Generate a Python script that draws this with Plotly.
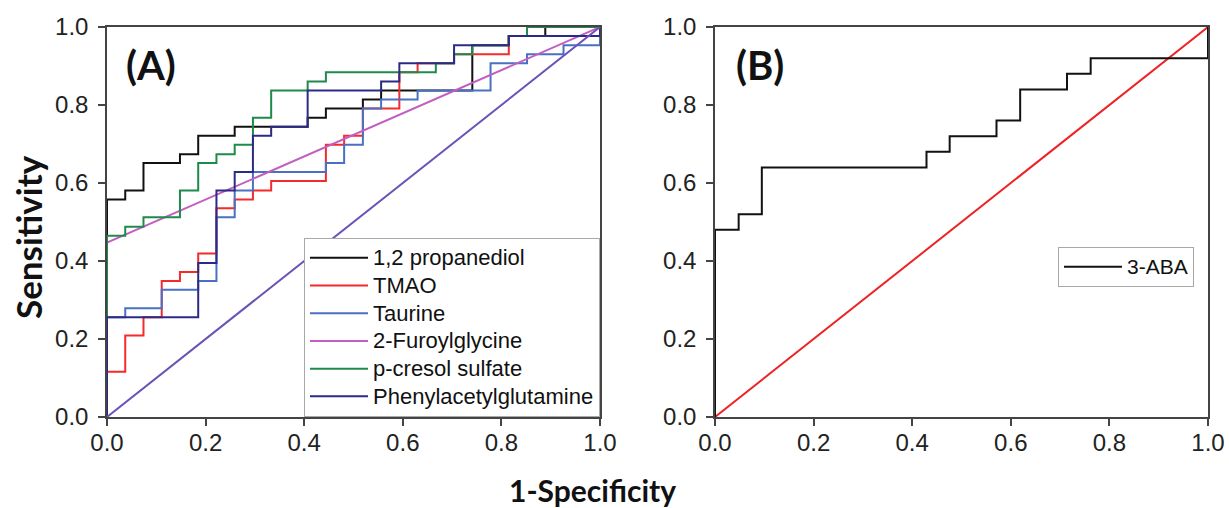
import plotly.graph_objects as go

# ---------------- Panel A: ROC operating points (1-Specificity, Sensitivity) -------------
propanediol_fpr = [0, 0, 0.037, 0.074, 0.148, 0.185, 0.259, 0.407, 0.444, 0.519, 0.556, 0.741, 0.815, 0.889, 1.0]
propanediol_tpr = [0, 0.558, 0.581, 0.651, 0.674, 0.721, 0.744, 0.767, 0.791, 0.814, 0.837, 0.953, 0.977, 1.0, 1.0]

tmao_fpr = [0, 0, 0.037, 0.074, 0.111, 0.148, 0.185, 0.222, 0.259, 0.296, 0.333, 0.444, 0.481, 0.519, 0.593, 0.630, 0.704, 0.815, 1.0]
tmao_tpr = [0, 0.116, 0.209, 0.256, 0.349, 0.372, 0.419, 0.535, 0.558, 0.581, 0.605, 0.698, 0.721, 0.791, 0.884, 0.907, 0.930, 0.977, 1.0]

taurine_fpr = [0, 0, 0.037, 0.111, 0.185, 0.222, 0.259, 0.296, 0.444, 0.481, 0.519, 0.556, 0.630, 0.778, 0.852, 0.926, 1.0]
taurine_tpr = [0, 0.256, 0.279, 0.326, 0.349, 0.512, 0.581, 0.628, 0.651, 0.698, 0.791, 0.814, 0.837, 0.907, 0.930, 0.953, 1.0]

furoylglycine_fpr = [0, 0, 1.0]
furoylglycine_tpr = [0, 0.447, 1.0]

cresol_fpr = [0, 0, 0.037, 0.074, 0.148, 0.185, 0.222, 0.259, 0.296, 0.333, 0.407, 0.444, 0.667, 0.704, 0.741, 0.815, 0.852, 1.0]
cresol_tpr = [0, 0.465, 0.488, 0.512, 0.581, 0.651, 0.674, 0.698, 0.767, 0.837, 0.860, 0.884, 0.907, 0.930, 0.953, 0.977, 1.0, 1.0]

pag_fpr = [0, 0, 0.185, 0.222, 0.259, 0.296, 0.333, 0.407, 0.556, 0.593, 0.704, 0.815, 1.0]
pag_tpr = [0, 0.256, 0.395, 0.581, 0.628, 0.721, 0.744, 0.837, 0.860, 0.907, 0.953, 0.977, 1.0]

ref_line = [0, 1.0]

# ---------------- Panel B --------------------------------------------------------------
aba_fpr = [0, 0, 0.048, 0.095, 0.429, 0.476, 0.571, 0.619, 0.714, 0.762, 1.0]
aba_tpr = [0, 0.48, 0.52, 0.64, 0.68, 0.72, 0.76, 0.84, 0.88, 0.92, 1.0]

names_a = ["1,2 propanediol", "TMAO", "Taurine", "2-Furoylglycine", "p-cresol sulfate", "Phenylacetylglutamine"]
name_b = "3-ABA"
colors_a = ["#111111", "#f52a2a", "#4a70c2", "#c25ec2", "#1f8a4c", "#2b2b86"]
series_a = [(propanediol_fpr, propanediol_tpr, "hv"),
            (tmao_fpr, tmao_tpr, "hv"),
            (taurine_fpr, taurine_tpr, "hv"),
            (furoylglycine_fpr, furoylglycine_tpr, "linear"),
            (cresol_fpr, cresol_tpr, "hv"),
            (pag_fpr, pag_tpr, "hv")]

TXT = "Liberation Sans, Arial, sans-serif"
BOLD = "Lato, Open Sans, sans-serif"


def big(label, px):
    return f'<span style="font-size:{px}px">{label}</span>'


fig = go.Figure()
for name, col, (fx, ty, shp) in zip(names_a, colors_a, series_a):
    fig.add_trace(go.Scatter(x=fx, y=ty, mode="lines", name=big(name, 22),
                             line=dict(color=col, width=2, shape=shp),
                             xaxis="x", yaxis="y", legend="legend"))
fig.add_trace(go.Scatter(x=ref_line, y=ref_line, mode="lines", showlegend=False,
                         line=dict(color="#6b52b6", width=2), xaxis="x", yaxis="y"))

fig.add_trace(go.Scatter(x=ref_line, y=ref_line, mode="lines", showlegend=False,
                         line=dict(color="#ee2222", width=2), xaxis="x2", yaxis="y2"))
fig.add_trace(go.Scatter(x=aba_fpr, y=aba_tpr, mode="lines", name=big(name_b, 21),
                         line=dict(color="#111111", width=2, shape="hv"),
                         xaxis="x2", yaxis="y2", legend="legend2"))

W, H = 1229, 508
xa = [107 / W, 600 / W]
xb = [715 / W, 1208 / W]
yd = [91 / H, 481 / H]

axis_common = dict(range=[0, 1], tick0=0, dtick=0.2, tickformat=".1f",
                   showgrid=False, zeroline=False, showline=True, mirror=True,
                   linecolor="#444444", linewidth=1.5, ticks="outside", ticklen=7,
                   tickwidth=1.5, tickcolor="#444444",
                   tickfont=dict(family=TXT, size=24, color="#222222"))
x_extra = dict(ticklabelstandoff=-4)
y_extra = dict(ticklabelstandoff=5)

fig.update_layout(
    width=W, height=H, margin=dict(l=0, r=0, t=0, b=0, autoexpand=False),
    paper_bgcolor="white", plot_bgcolor="white",
    xaxis=dict(domain=xa, anchor="y", **axis_common, **x_extra),
    yaxis=dict(domain=yd, anchor="x", **axis_common, **y_extra),
    xaxis2=dict(domain=xb, anchor="y2", **axis_common, **x_extra),
    yaxis2=dict(domain=yd, anchor="x2", **axis_common, **y_extra),
    legend=dict(x=600 / W, xanchor="right", y=91 / H, yanchor="bottom",
                bgcolor="white", bordercolor="#a8a8a8", borderwidth=1, itemwidth=58,
                font=dict(family=TXT, size=19, color="#111111"), tracegroupgap=0),
    legend2=dict(x=1194 / W, xanchor="right", y=1 - 247 / H, yanchor="top",
                 bgcolor="white", bordercolor="#a8a8a8", borderwidth=1, itemwidth=58,
                 font=dict(family=TXT, size=19, color="#111111")),
    annotations=[
        dict(text="<b>(A)</b>", x=151 / W, y=1 - 65 / H, xref="paper", yref="paper",
             xanchor="center", yanchor="middle",
             showarrow=False, font=dict(family=BOLD, size=40, color="#111111")),
        dict(text="<b>(B)</b>", x=760 / W, y=1 - 65 / H, xref="paper", yref="paper",
             xanchor="center", yanchor="middle",
             showarrow=False, font=dict(family=BOLD, size=40, color="#111111")),
        dict(text="<b>Sensitivity</b>", x=28 / W, y=1 - 237 / H, xref="paper", yref="paper",
             xanchor="center", yanchor="middle",
             textangle=-90, showarrow=False, font=dict(family=BOLD, size=35, color="#111111")),
        dict(text="<b>1-Specificity</b>", x=592 / W, y=1 - 490 / H, xref="paper", yref="paper",
             xanchor="center", yanchor="middle",
             showarrow=False, font=dict(family=BOLD, size=30, color="#111111")),
    ],
)

fig.write_html("out.html", config={"displayModeBar": False})
